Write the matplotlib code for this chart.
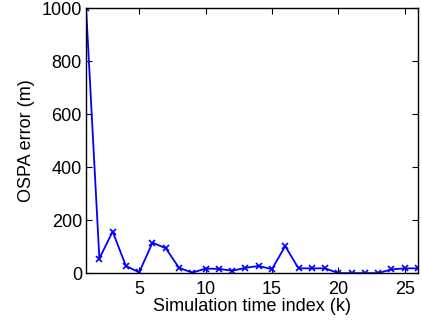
import numpy as np
import matplotlib
matplotlib.use('Agg')
import matplotlib.pyplot as plt

plt.rcParams['font.family'] = ['Liberation Sans', 'DejaVu Sans']

# OSPA error per time step
k = np.arange(1, 27)
ospa = [1000, 55, 157, 27, 3, 115, 94, 20, 2, 17, 16, 9, 20, 27, 15,
        102, 18, 18, 18, 0, 0, 0, 0, 14, 18, 18]
xTicks = [5, 10, 15, 20, 25]
yTicks = [0, 200, 400, 600, 800, 1000]

fig = plt.figure(figsize=[4.22, 3.24], dpi=100)
ax = fig.add_axes([0.204, 0.157, 0.7865, 0.818])
ax.plot(k, ospa, '-x', color='blue', linewidth=1.3, markersize=4, markeredgewidth=1.2)
ax.set_xlim(1, 26)
ax.set_ylim(0, 1000)
ax.set_xticks(xTicks)
ax.set_yticks(yTicks)
ax.set_xlabel('Simulation time index (k)', fontsize=13, labelpad=0)
ax.set_ylabel('OSPA error (m)', fontsize=13, labelpad=5)
ax.tick_params(direction='in', top=True, right=True, labelsize=13, length=4, width=0.8)
ax.tick_params(axis='x', pad=6)
ax.tick_params(axis='y', pad=3)
for s in ax.spines.values():
    s.set_linewidth(1.0)

plt.savefig('out.png', dpi=100)
